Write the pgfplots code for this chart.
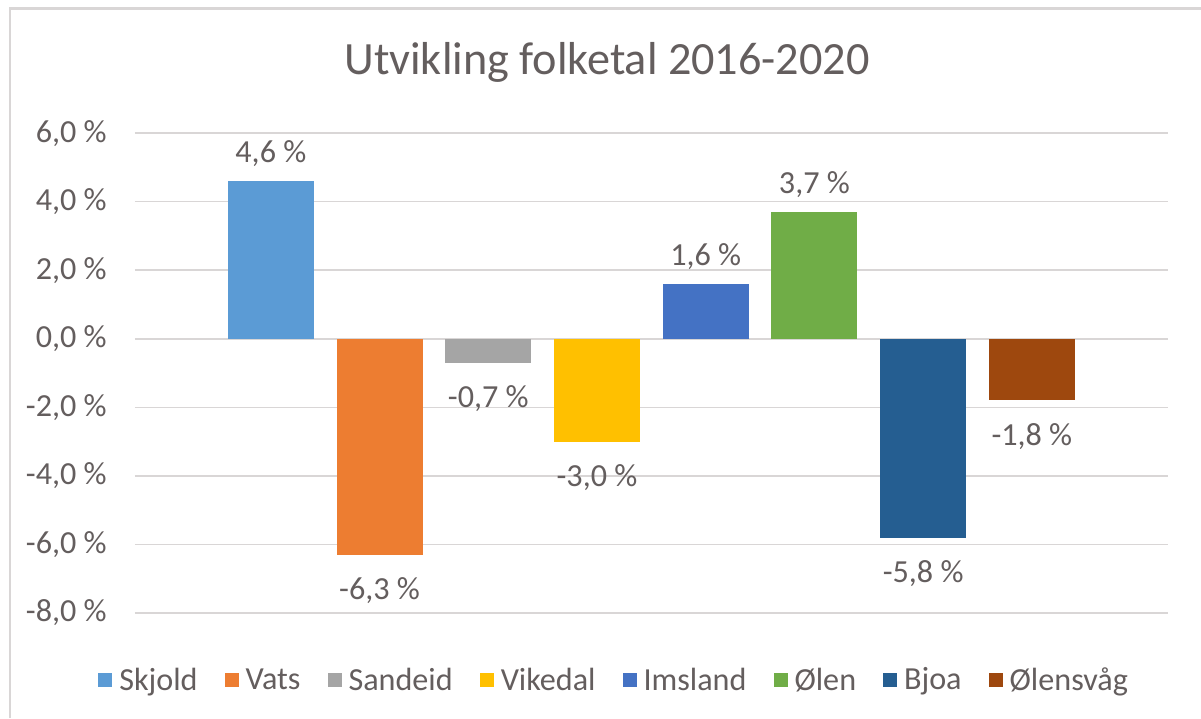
\documentclass[border=0pt]{standalone}
\usepackage{pgfplots}
\pgfplotsset{compat=1.18}
\usepackage{fontspec}
\setmainfont{Carlito}
\definecolor{txt}{RGB}{100,94,94}
\definecolor{grd}{RGB}{217,214,214}
\definecolor{c1}{HTML}{5B9BD5}
\definecolor{c2}{HTML}{ED7D31}
\definecolor{c3}{HTML}{A5A5A5}
\definecolor{c4}{HTML}{FFC000}
\definecolor{c5}{HTML}{4472C4}
\definecolor{c6}{HTML}{70AD47}
\definecolor{c7}{HTML}{255E91}
\definecolor{c8}{HTML}{9E480E}
\newcommand\lab{\fontsize{18.3}{22}\selectfont}
\begin{document}
\begin{tikzpicture}[x=0.02cm,y=0.02cm]
\useasboundingbox (0,0) rectangle (1201,718);
\fill[white] (0,0) rectangle (1201,718);
\draw[grd, line width=0.06cm] (10,0) -- (10,709) -- (1201,709);
\node[text=txt, font=\fontsize{26.3}{31}\selectfont] at (607,656) {Utvikling folketal 2016-2020};
\begin{axis}[
  at={(2.7cm,2.1cm)}, anchor=south west,
  scale only axis, width=20.66cm, height=9.6cm,
  xmin=-1.25, xmax=8.25, ymin=-8, ymax=6,
  ytick={-8,-6,-4,-2,0,2,4,6}, xtick=\empty,
  axis line style={draw=none},
  major tick length=0pt,
  ymajorgrids, grid style={grd, line width=0.03cm},
  /pgf/number format/.cd, use comma, fixed, fixed zerofill, precision=1, 1000 sep={}, assume math mode=true,
  /pgfplots/.cd,
  yticklabel={\pgfmathprintnumber{\tick}~\%},
  yticklabel style={font=\lab, text=txt, inner xsep=0pt, xshift=-0.56cm},
  ybar, bar width=0.79, bar shift=0pt,
  nodes near coords={\rule{0pt}{17.3pt}\pgfmathprintnumber{\pgfplotspointmeta}~\%},
  nodes near coords align=vertical,
  every node near coord/.append style={font=\lab, text=txt, inner xsep=0pt, inner ysep=0.28cm},
  legend image code/.code={\fill[#1] (0cm,-0.14cm) rectangle (0.28cm,0.14cm);},
  legend columns=-1,
  legend style={at={(0.463,-0.14)}, anchor=center, draw=none, font=\lab, text=txt,
    nodes={inner xsep=0pt},
    /tikz/every odd column/.append style={column sep=0.14cm},
    /tikz/every even column/.append style={column sep=0.54cm}},
]
\addplot[fill=c1, draw=none] coordinates {(0,4.6)};
\addlegendentry{Skjold}
\addplot[fill=c2, draw=none] coordinates {(1,-6.3)};
\addlegendentry{Vats}
\addplot[fill=c3, draw=none] coordinates {(2,-0.7)};
\addlegendentry{Sandeid}
\addplot[fill=c4, draw=none] coordinates {(3,-3.0)};
\addlegendentry{Vikedal}
\addplot[fill=c5, draw=none] coordinates {(4,1.6)};
\addlegendentry{Imsland}
\addplot[fill=c6, draw=none] coordinates {(5,3.7)};
\addlegendentry{Ølen}
\addplot[fill=c7, draw=none] coordinates {(6,-5.8)};
\addlegendentry{Bjoa}
\addplot[fill=c8, draw=none] coordinates {(7,-1.8)};
\addlegendentry{Ølensvåg}
\end{axis}
\end{tikzpicture}
\end{document}
